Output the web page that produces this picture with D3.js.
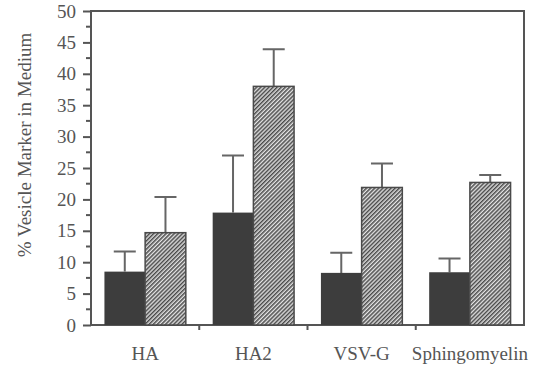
<!DOCTYPE html>
<html>
<head>
<meta charset="utf-8">
<script src="https://cdn.jsdelivr.net/npm/d3@7"></script>
<style>
  body { margin: 0; background: #fff; }
  svg text { font-family: "Liberation Serif", "Times New Roman", serif; fill: #555; }
</style>
</head>
<body>
<div id="chart"></div>
<script>
  // values
  var categories = ['HA', 'HA2', 'VSV-G', 'Sphingomyelin'];
  var seriesNames = ['control', 'treated'];
  var controlValues = [8.5, 17.9, 8.3, 8.4];
  var controlErrors = [3.2, 9.1, 3.2, 2.2];
  var treatedValues = [14.7, 38.0, 21.9, 22.7];
  var treatedErrors = [5.7, 5.9, 3.8, 1.2];
  var yTicks = [0, 5, 10, 15, 20, 25, 30, 35, 40, 45, 50];

  var width = 538, height = 368;
  var plotLeft = 91, plotRight = 524, plotTop = 11, plotBottom = 325;
  var ink = '#555';

  var rows = categories.map(function (c, i) {
    return {
      label: c,
      bars: [
        { key: 'control', value: controlValues[i], err: controlErrors[i] },
        { key: 'treated', value: treatedValues[i], err: treatedErrors[i] }
      ]
    };
  });

  var svg = d3.select('#chart').append('svg')
      .attr('width', width)
      .attr('height', height);

  var defs = svg.append('defs');
  var pat = defs.append('pattern')
      .attr('id', 'hatch')
      .attr('patternUnits', 'userSpaceOnUse')
      .attr('width', 2.9)
      .attr('height', 2.9)
      .attr('patternTransform', 'rotate(45)');
  pat.append('rect').attr('width', 2.9).attr('height', 2.9).attr('fill', '#e4e4e4');
  pat.append('rect').attr('width', 1.5).attr('height', 2.9).attr('fill', '#4a4a4a');

  var x0 = d3.scaleBand().domain(categories).range([plotLeft, plotRight]).padding(0);
  var x1 = d3.scaleBand().domain(seriesNames)
      .range([0, x0.bandwidth()])
      .paddingInner(0)
      .paddingOuter(0.33);
  var y = d3.scaleLinear().domain([0, 50]).range([plotBottom, plotTop]);

  // frame
  svg.append('rect')
      .attr('x', plotLeft).attr('y', plotTop)
      .attr('width', plotRight - plotLeft).attr('height', plotBottom - plotTop)
      .attr('fill', 'none').attr('stroke', ink).attr('stroke-width', 2);

  var groups = svg.selectAll('g.group')
      .data(rows)
      .enter().append('g')
      .attr('class', 'group')
      .attr('transform', function (d) { return 'translate(' + x0(d.label) + ',0)'; });

  // error bars (upper only)
  groups.selectAll('path.err')
      .data(function (d) { return d.bars; })
      .enter().append('path')
      .attr('class', 'err')
      .attr('fill', 'none')
      .attr('stroke', '#666')
      .attr('stroke-width', 2)
      .attr('d', function (d) {
        var cx = x1(d.key) + x1.bandwidth() / 2;
        var yt = y(d.value + d.err);
        return 'M' + cx + ',' + y(d.value) + 'V' + yt + 'M' + (cx - 11) + ',' + yt + 'H' + (cx + 11);
      });

  groups.selectAll('rect.bar')
      .data(function (d) { return d.bars; })
      .enter().append('rect')
      .attr('class', 'bar')
      .attr('x', function (d) { return x1(d.key); })
      .attr('width', x1.bandwidth())
      .attr('y', function (d) { return y(d.value); })
      .attr('height', function (d) { return y(0) - y(d.value); })
      .attr('fill', function (d) { return d.key === 'control' ? '#3d3d3d' : 'url(#hatch)'; })
      .attr('stroke', function (d) { return d.key === 'control' ? 'none' : '#4a4a4a'; })
      .attr('stroke-width', 1.5);

  // y axis
  var yAxis = d3.axisLeft(y).tickValues(yTicks).tickSize(8).tickPadding(7);
  var ga = svg.append('g').attr('transform', 'translate(' + plotLeft + ',0)').call(yAxis);
  ga.select('.domain').remove();
  ga.selectAll('line').attr('stroke', ink).attr('stroke-width', 2);
  ga.selectAll('text').attr('font-size', 19).style('fill', ink);

  var minor = d3.range(2.5, 50, 5);
  svg.append('g').selectAll('line')
      .data(minor)
      .enter().append('line')
      .attr('x1', plotLeft - 5).attr('x2', plotLeft)
      .attr('y1', function (d) { return y(d); })
      .attr('y2', function (d) { return y(d); })
      .attr('stroke', ink).attr('stroke-width', 2);

  // x axis
  var xAxis = d3.axisBottom(x0).tickSize(0).tickPadding(22);
  var gx = svg.append('g').attr('transform', 'translate(0,' + plotBottom + ')').call(xAxis);
  gx.select('.domain').remove();
  gx.selectAll('text').attr('font-size', 19).style('fill', ink);

  svg.append('g').selectAll('line')
      .data(categories.slice(1))
      .enter().append('line')
      .attr('x1', function (d) { return x0(d); })
      .attr('x2', function (d) { return x0(d); })
      .attr('y1', plotBottom).attr('y2', plotBottom + 5)
      .attr('stroke', ink).attr('stroke-width', 2);

  svg.append('text')
      .attr('transform', 'translate(31,145) rotate(-90)')
      .attr('text-anchor', 'middle')
      .attr('font-size', 19)
      .text('% Vesicle Marker in Medium');
</script>
</body>
</html>
